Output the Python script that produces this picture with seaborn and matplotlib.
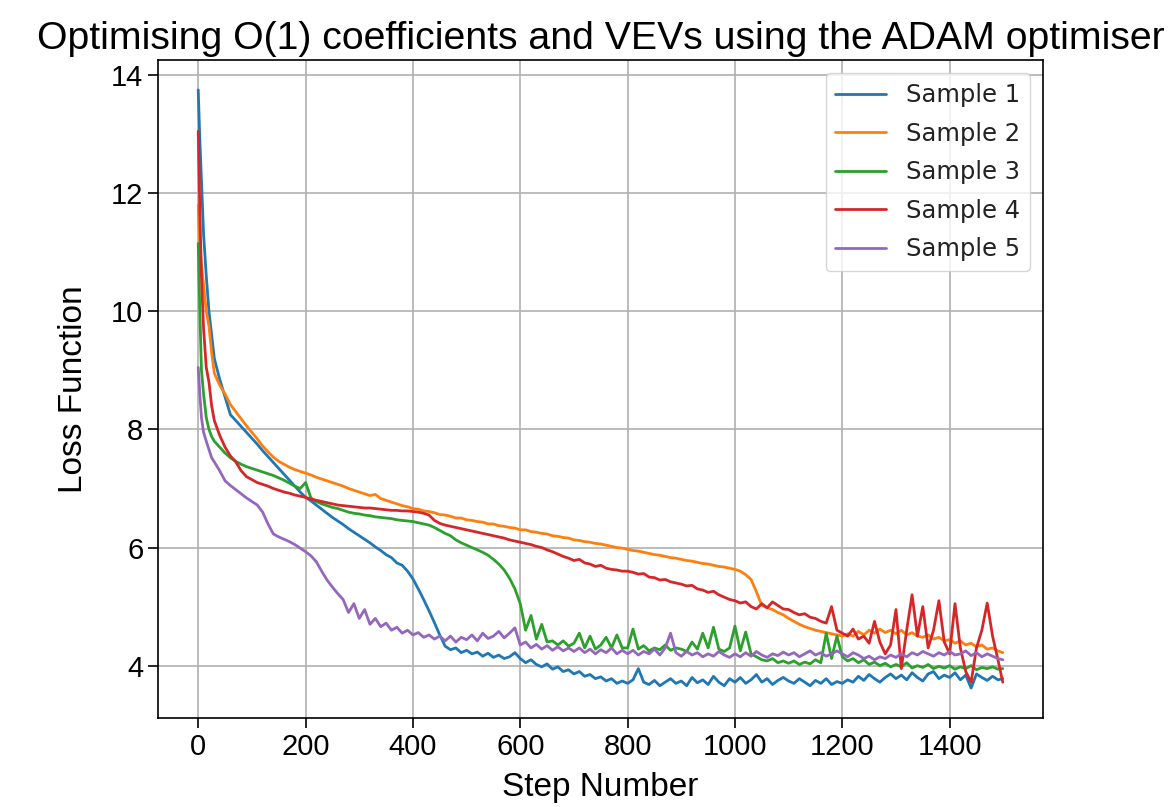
import numpy as np
import pandas as pd
import matplotlib
matplotlib.use("Agg")
import matplotlib.pyplot as plt
import seaborn as sns

sns.set_theme(style="ticks")
plt.rcParams["font.family"] = ["Liberation Sans", "DejaVu Sans"]
plt.rcParams.update({"text.color": "black", "axes.labelcolor": "black",
                     "xtick.color": "black", "ytick.color": "black"})

# ── DATA
steps = [0, 3, 6, 10, 15, 20, 25, 30, 40, 50, 60, 70, 80, 90] + list(range(100, 1500, 10)) + [1499]

sample1 = [13.75, 12.9, 12.2, 11.3, 10.6, 10.0, 9.6, 9.2, 8.85, 8.55, 8.25, 8.15, 8.05, 7.95,
           7.85, 7.75, 7.64, 7.54, 7.44, 7.34, 7.24, 7.14, 7.04, 6.94,
           6.85, 6.79, 6.72, 6.65, 6.58, 6.51, 6.45, 6.39, 6.32, 6.26,
           6.2, 6.14, 6.08, 6.01, 5.95, 5.88, 5.83, 5.74, 5.7, 5.6,
           5.47, 5.3, 5.12, 4.93, 4.73, 4.52, 4.33, 4.27, 4.3, 4.22,
           4.26, 4.2, 4.23, 4.16, 4.21, 4.14, 4.18, 4.12, 4.15, 4.22,
           4.12, 4.05, 4.1, 4.02, 3.98, 4.03, 3.94, 3.98, 3.9, 3.93,
           3.86, 3.9, 3.82, 3.85, 3.78, 3.81, 3.74, 3.78, 3.7, 3.74,
           3.7, 3.76, 3.95, 3.72, 3.68, 3.75, 3.66, 3.72, 3.78, 3.7,
           3.74, 3.66, 3.8, 3.71, 3.76, 3.68, 3.82, 3.72, 3.66, 3.78,
           3.72, 3.8, 3.7, 3.76, 3.85, 3.72, 3.78, 3.68, 3.75, 3.8,
           3.74, 3.7, 3.78, 3.72, 3.66, 3.75, 3.7, 3.78, 3.68, 3.73,
           3.7, 3.76, 3.72, 3.82, 3.75, 3.85, 3.78, 3.72, 3.8, 3.86,
           3.78, 3.84, 3.76, 3.88, 3.8, 3.74, 3.86, 3.9, 3.78, 3.84,
           3.8, 3.88, 3.76, 3.84, 3.62, 3.86, 3.8, 3.75, 3.82, 3.76,
           3.78]

sample2 = [11.8, 11.1, 10.8, 10.45, 10.0, 9.75, 9.3, 8.95, 8.75, 8.6, 8.42, 8.3, 8.18, 8.06,
           7.95, 7.84, 7.72, 7.62, 7.53, 7.46, 7.41, 7.36, 7.32, 7.29,
           7.26, 7.23, 7.19, 7.16, 7.13, 7.1, 7.07, 7.04, 7.0, 6.97,
           6.94, 6.91, 6.88, 6.9, 6.83, 6.8, 6.77, 6.74, 6.71, 6.69,
           6.66, 6.65, 6.62, 6.61, 6.59, 6.56, 6.55, 6.53, 6.5, 6.5,
           6.47, 6.46, 6.44, 6.43, 6.4, 6.4, 6.37, 6.36, 6.34, 6.33,
           6.3, 6.3, 6.27, 6.26, 6.24, 6.23, 6.2, 6.19, 6.17, 6.16,
           6.13, 6.12, 6.1, 6.09, 6.07, 6.06, 6.04, 6.02, 6.0, 5.99,
           5.97, 5.95, 5.94, 5.92, 5.9, 5.88, 5.87, 5.85, 5.83, 5.82,
           5.8, 5.78, 5.77, 5.75, 5.73, 5.72, 5.7, 5.68, 5.67, 5.65,
           5.63, 5.6, 5.54, 5.46, 5.25, 5.02, 4.98, 4.95, 4.9, 4.86,
           4.8, 4.75, 4.7, 4.66, 4.63, 4.6, 4.58, 4.56, 4.54, 4.52,
           4.5, 4.54, 4.5, 4.58, 4.52, 4.6, 4.55, 4.62, 4.56, 4.6,
           4.54, 4.6, 4.52, 4.56, 4.5, 4.48, 4.52, 4.45, 4.48, 4.42,
           4.44, 4.38, 4.42, 4.35, 4.38, 4.32, 4.35, 4.28, 4.3, 4.25,
           4.22]

sample3 = [11.15, 10.0, 9.0, 8.6, 8.2, 8.0, 7.88, 7.8, 7.7, 7.6, 7.52, 7.46, 7.41, 7.37,
           7.34, 7.31, 7.28, 7.25, 7.22, 7.18, 7.14, 7.09, 7.04, 7.0,
           7.1, 6.84, 6.78, 6.74, 6.71, 6.68, 6.66, 6.63, 6.6, 6.58,
           6.57, 6.55, 6.54, 6.52, 6.51, 6.5, 6.49, 6.47, 6.46, 6.45,
           6.44, 6.42, 6.4, 6.38, 6.34, 6.29, 6.24, 6.2, 6.13, 6.08,
           6.04, 6.0, 5.96, 5.92, 5.87, 5.8, 5.72, 5.62, 5.48, 5.3,
           5.05, 4.6, 4.85, 4.45, 4.7, 4.4, 4.42, 4.35, 4.42, 4.33,
           4.38, 4.55, 4.3, 4.5, 4.28, 4.35, 4.48, 4.3, 4.52, 4.3,
           4.3, 4.62, 4.28, 4.34, 4.25, 4.3, 4.27, 4.35, 4.26, 4.3,
           4.28, 4.24, 4.4, 4.28, 4.55, 4.3, 4.65, 4.28, 4.24, 4.3,
           4.67, 4.25, 4.57, 4.2, 4.15, 4.1, 4.08, 4.12, 4.05, 4.08,
           4.04, 4.08, 4.02, 4.06, 4.03, 4.1, 4.05, 4.55, 4.12, 4.5,
           4.15, 4.08, 4.12, 4.05, 4.1, 4.02, 4.06, 4.0, 4.04, 3.98,
           4.02, 3.98, 4.05, 3.96, 4.0, 3.97, 4.02, 3.95, 3.99, 3.96,
           4.0, 3.94, 3.98, 3.95, 4.0, 3.93, 3.97, 3.95, 3.98, 3.94,
           3.95]

sample4 = [13.05, 11.7, 10.6, 9.7, 9.05, 8.8, 8.4, 8.15, 7.9, 7.7, 7.55, 7.45, 7.3, 7.2,
           7.15, 7.1, 7.07, 7.04, 7.0, 6.97, 6.94, 6.92, 6.89, 6.87,
           6.85, 6.82, 6.8, 6.78, 6.76, 6.74, 6.72, 6.71, 6.7, 6.69,
           6.68, 6.67, 6.67, 6.66, 6.65, 6.64, 6.63, 6.63, 6.62, 6.62,
           6.61, 6.6, 6.58, 6.55, 6.46, 6.41, 6.38, 6.36, 6.34, 6.32,
           6.3, 6.28, 6.26, 6.24, 6.22, 6.2, 6.18, 6.16, 6.13, 6.11,
           6.09, 6.07, 6.05, 6.02, 6.0, 5.96, 5.93, 5.89, 5.85, 5.82,
           5.78, 5.8, 5.74, 5.72, 5.68, 5.7, 5.65, 5.63, 5.62, 5.6,
           5.6, 5.58, 5.55, 5.56, 5.5, 5.49, 5.45, 5.46, 5.42, 5.4,
           5.38, 5.35, 5.36, 5.3, 5.28, 5.24, 5.26, 5.2, 5.16, 5.12,
           5.1, 5.06, 5.08, 5.0, 4.96, 5.05, 4.98, 5.08, 5.02, 4.96,
           4.95, 4.9, 4.86, 4.88, 4.82, 4.8, 4.75, 4.72, 5.0, 4.6,
           4.55, 4.5, 4.62, 4.45, 4.5, 4.38, 4.75, 4.4, 4.2, 4.35,
           4.95, 3.95, 4.6, 5.2, 4.5, 5.0, 4.3, 4.6, 5.1, 4.4,
           4.2, 5.05, 4.3, 3.9, 3.72, 4.3, 4.6, 5.06, 4.5, 4.1,
           3.72]

sample5 = [9.05, 8.6, 8.2, 7.95, 7.8, 7.66, 7.52, 7.45, 7.3, 7.13, 7.05, 6.98, 6.91, 6.84,
           6.78, 6.72, 6.6, 6.4, 6.23, 6.18, 6.14, 6.1, 6.05, 5.99,
           5.93, 5.86, 5.76, 5.6, 5.45, 5.33, 5.22, 5.12, 4.9, 5.05,
           4.8, 4.95, 4.7, 4.8, 4.66, 4.72, 4.6, 4.65, 4.55, 4.6,
           4.52, 4.56, 4.48, 4.52, 4.45, 4.5, 4.42, 4.5, 4.4, 4.48,
           4.44, 4.52, 4.42, 4.55, 4.46, 4.5, 4.58, 4.47, 4.55, 4.64,
           4.35, 4.4, 4.3, 4.36, 4.28, 4.34, 4.26, 4.32, 4.25, 4.3,
           4.24, 4.3, 4.22, 4.28, 4.2, 4.27, 4.22, 4.3, 4.2, 4.26,
           4.2, 4.26, 4.18, 4.24, 4.2, 4.28, 4.18, 4.3, 4.55, 4.22,
           4.16, 4.24, 4.18, 4.22, 4.15, 4.2, 4.16, 4.24, 4.18, 4.14,
           4.2, 4.15, 4.22, 4.16, 4.24, 4.18, 4.14, 4.2, 4.17, 4.23,
           4.18, 4.22, 4.15, 4.2, 4.25, 4.18, 4.22, 4.16, 4.2, 4.25,
           4.2, 4.15, 4.22, 4.18, 4.12, 4.16, 4.1, 4.15, 4.12, 4.18,
           4.14, 4.2, 4.15, 4.22, 4.18, 4.24, 4.2, 4.16, 4.22, 4.18,
           4.24, 4.18, 4.2, 4.25, 4.17, 4.22, 4.15, 4.2, 4.16, 4.12,
           4.1]

labels = ["Sample 1", "Sample 2", "Sample 3", "Sample 4", "Sample 5"]
series = [sample1, sample2, sample3, sample4, sample5]

df = pd.concat([pd.DataFrame({"step": steps, "loss": s, "sample": lab})
                for lab, s in zip(labels, series)], ignore_index=True)

# ── PLOT
fig = plt.figure(figsize=(11.74, 8.07), dpi=100)
ax = fig.add_axes([158/1174, 1-718/807, 885/1174, 658/807])

sns.lineplot(data=df, x="step", y="loss", hue="sample", palette=sns.color_palette("tab10", 5),
             estimator=None, sort=False, linewidth=2.0, ax=ax)

ax.grid(True, color="#b0b0b0", linewidth=1.2)
for sp in ax.spines.values():
    sp.set_color("black"); sp.set_linewidth(1.2)
ax.tick_params(axis="both", labelsize=21, length=7, width=1.2, color="black")
ax.set_xticks([0, 200, 400, 600, 800, 1000, 1200, 1400])
ax.set_yticks([4, 6, 8, 10, 12, 14])
ax.set_xlabel("Step Number", fontsize=24, labelpad=8)
ax.set_ylabel("Loss Function", fontsize=24, labelpad=16)
ax.set_title("Optimising O(1) coefficients and VEVs using the ADAM optimiser", fontsize=28.3, pad=8)

leg = ax.legend(loc="upper right", prop={"family": "DejaVu Sans", "size": 17.5},
                frameon=True, borderaxespad=0.55, handlelength=2.1, labelspacing=0.6)
leg.get_frame().set_edgecolor("#cccccc")
for txt in leg.get_texts():
    txt.set_color("#222222")
for line in leg.get_lines():
    line.set_linewidth(2.0)

fig.savefig("out.png", dpi=100)
